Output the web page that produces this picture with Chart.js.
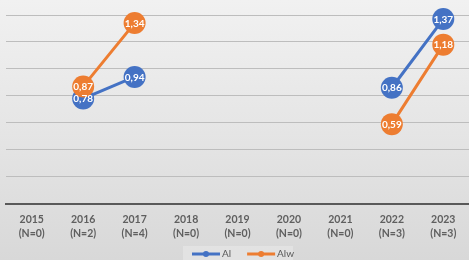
<!DOCTYPE html>
<html>
<head>
<meta charset="utf-8">
<script src="https://cdn.jsdelivr.net/npm/chart.js@4"></script>
<style>
  html, body { margin: 0; padding: 0; }
  body {
    width: 469px; height: 260px; overflow: hidden;
    background: linear-gradient(to bottom, #f1f1f1 0%, #e4e4e4 55%, #d8d8d8 100%);
  }
  canvas { display: block; }
</style>
</head>
<body>
<canvas id="chart" width="469" height="260"></canvas>
<script>
// years with sample size
const years = ['2015', '2016', '2017', '2018', '2019', '2020', '2021', '2022', '2023'];
const sampleSizes = ['(N=0)', '(N=2)', '(N=4)', '(N=0)', '(N=0)', '(N=0)', '(N=0)', '(N=3)', '(N=3)'];

const alValues = [null, 0.78, 0.94, null, null, null, null, 0.86, 1.37];
const alwValues = [null, 0.87, 1.34, null, null, null, null, 0.59, 1.18];

const BLUE = '#4472C4';
const ORANGE = '#ED7D31';

const labels = years.map((y, i) => [y, sampleSizes[i]]);

// white value labels inside the markers
const valueLabels = {
  id: 'valueLabels',
  afterDatasetsDraw(chart) {
    const ctx = chart.ctx;
    ctx.save();
    ctx.font = 'bold 10px Lato';
    ctx.fillStyle = '#ffffff';
    ctx.textAlign = 'center';
    ctx.textBaseline = 'middle';
    chart.data.datasets.forEach((ds, i) => {
      const meta = chart.getDatasetMeta(i);
      meta.data.forEach((pt, j) => {
        const v = ds.data[j];
        if (v == null) return;
        ctx.fillText(v.toFixed(2).replace('.', ','), pt.x, pt.y + 0.5);
      });
    });
    ctx.restore();
  }
};

// excel style legend: line with marker
const lineLegend = {
  id: 'lineLegend',
  afterDraw(chart) {
    const ctx = chart.ctx;
    ctx.save();
    ctx.fillStyle = 'rgba(255,255,255,0.25)';
    ctx.fillRect(183, 246, 110, 14);
    ctx.font = '10px Lato';
    ctx.textBaseline = 'middle';
    const y = 254;
    let x = 192;
    chart.data.datasets.forEach(ds => {
      ctx.strokeStyle = ds.borderColor;
      ctx.lineWidth = 3;
      ctx.beginPath();
      ctx.moveTo(x, y);
      ctx.lineTo(x + 28, y);
      ctx.stroke();
      ctx.fillStyle = ds.borderColor;
      ctx.beginPath();
      ctx.arc(x + 14, y, 3, 0, Math.PI * 2);
      ctx.fill();
      ctx.fillStyle = '#595959';
      ctx.fillText(ds.label, x + 30, y);
      x += 30 + ctx.measureText(ds.label).width + 16;
    });
    ctx.restore();
  }
};

new Chart(document.getElementById('chart'), {
  type: 'line',
  data: {
    labels: labels,
    datasets: [
      {
        label: 'Al',
        data: alValues,
        borderColor: BLUE,
        backgroundColor: BLUE,
        borderWidth: 3,
        pointRadius: 11,
        pointHoverRadius: 11,
        pointBorderWidth: 0,
        spanGaps: false,
        clip: false,
        order: 1
      },
      {
        label: 'Alw',
        data: alwValues,
        borderColor: ORANGE,
        backgroundColor: ORANGE,
        borderWidth: 3,
        pointRadius: 11,
        pointHoverRadius: 11,
        pointBorderWidth: 0,
        spanGaps: false,
        clip: false,
        order: 0
      }
    ]
  },
  options: {
    responsive: false,
    animation: false,
    layout: { autoPadding: false, padding: { left: 6, right: 0, top: 15, bottom: 18 } },
    plugins: {
      legend: { display: false },
      tooltip: { enabled: false }
    },
    scales: {
      x: {
        offset: true,
        grid: { display: false },
        border: { color: '#595959', width: 2 },
        ticks: {
          color: '#5f5f5f',
          font: { family: 'Lato', size: 10.5, weight: 'bold', lineHeight: 1.35 },
          padding: 1,
          maxRotation: 0,
          autoSkip: false
        }
      },
      y: {
        min: 0,
        max: 1.4,
        afterFit: scale => { scale.width = 0; },
        ticks: { display: false, stepSize: 0.2 },
        border: { display: false },
        grid: {
          drawTicks: false,
          color: c => c.tick.value === 0 ? 'rgba(0,0,0,0)' : '#bdbdbd',
          lineWidth: 1
        }
      }
    }
  },
  plugins: [valueLabels, lineLegend]
});
</script>
</body>
</html>
